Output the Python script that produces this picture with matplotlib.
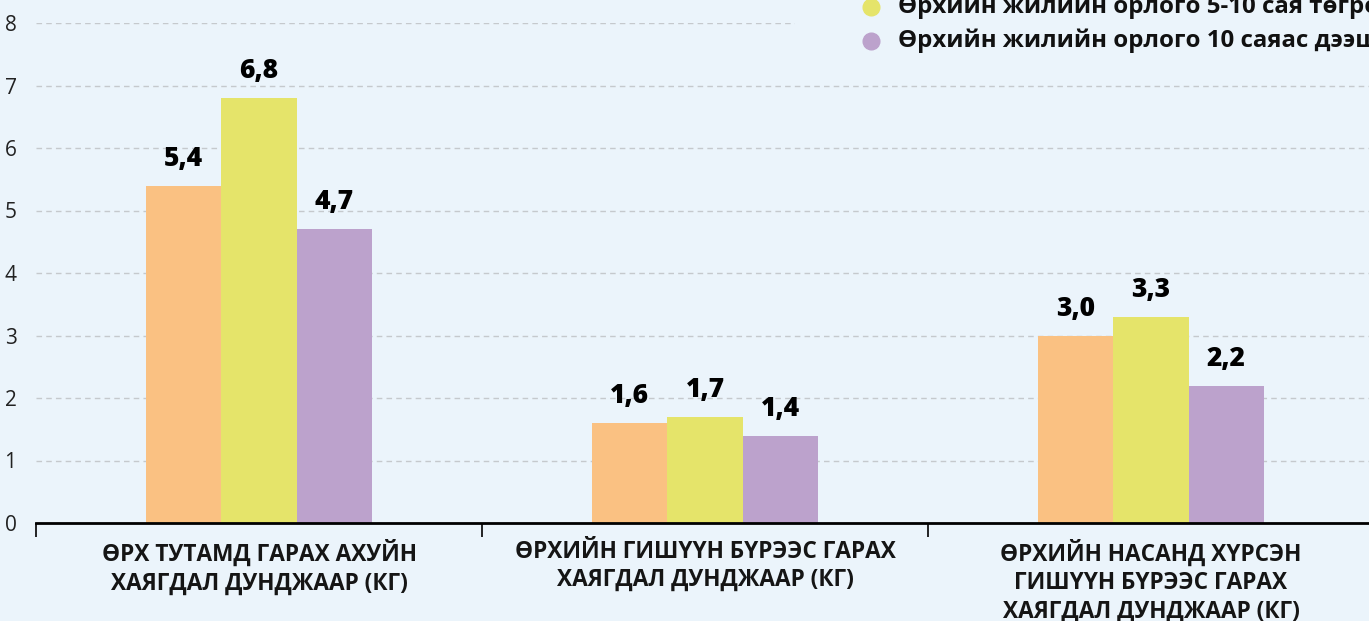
import matplotlib
matplotlib.use("Agg")
import matplotlib.pyplot as plt
from matplotlib.lines import Line2D
from matplotlib.patches import Rectangle
import numpy as np

plt.rcParams['font.family'] = ['Open Sans', 'Noto Sans', 'DejaVu Sans']

categories = [
    "ӨРХ ТУТАМД ГАРАХ АХУЙН\nХАЯГДАЛ ДУНДЖААР (КГ)",
    "ӨРХИЙН ГИШҮҮН БҮРЭЭС ГАРАХ\nХАЯГДАЛ ДУНДЖААР (КГ)",
    "ӨРХИЙН НАСАНД ХҮРСЭН\nГИШҮҮН БҮРЭЭС ГАРАХ\nХАЯГДАЛ ДУНДЖААР (КГ)",
]
series_names = [
    "Өрхийн жилийн орлого 5 саяас доош",
    "Өрхийн жилийн орлого 5-10 сая төгрөг",
    "Өрхийн жилийн орлого 10 саяас дээш",
]
values_low = [5.4, 1.6, 3.0]
values_mid = [6.8, 1.7, 3.3]
values_high = [4.7, 1.4, 2.2]
colors = ["#FAC182", "#E5E46A", "#BCA2CC"]
yticks = [0, 1, 2, 3, 4, 5, 6, 7, 8]

W, H = 1369, 621
bg = "#EBF4FB"
fig = plt.figure(figsize=(W / 100, H / 100), dpi=100, facecolor=bg)
ax = fig.add_axes([36 / W, (H - 523) / H, 1338 / W, 500 / H])
ax.set_facecolor(bg)

x = np.arange(len(categories))
bw = 0.169
for i, (vals, c) in enumerate(zip([values_low, values_mid, values_high], colors)):
    pos = x + (i - 1) * bw
    ax.bar(pos, vals, width=bw, color=c, zorder=3)
    for p, v in zip(pos, vals):
        ax.annotate(f"{v:.1f}".replace('.', ','), (p, v), xytext=(0, 10),
                    textcoords='offset points', ha='center', va='bottom',
                    fontsize=19, fontweight='heavy', color='black', zorder=4)

ax.set_xlim(-0.5, 2.5)
ax.set_ylim(0, 8)
ax.set_yticks(yticks)
ax.set_yticklabels([str(t) for t in yticks], fontsize=15, color='#222222')
ax.yaxis.grid(True, linestyle=(0, (4, 3)), color='#C5C9CD', linewidth=1, zorder=0)
ax.set_xticks(x)
ax.set_xticklabels(categories, fontsize=16.3, fontweight='bold', color='#151515',
                   linespacing=1.25, va='top')
ax.set_xticks([-0.5, 0.5, 1.5, 2.5], minor=True)
ax.tick_params(axis='x', which='major', length=0, pad=12)
ax.tick_params(axis='x', which='minor', length=10, width=1.2, direction='out', color='black')
ax.tick_params(axis='y', length=0, pad=14)
for s in ['top', 'right', 'left']:
    ax.spines[s].set_visible(False)
ax.spines['bottom'].set_linewidth(2)
ax.spines['bottom'].set_color('black')
ax.spines['bottom'].set_zorder(5)

# legend box (partially outside the figure, as in the source image)
fig.patches.append(Rectangle((795 / W, (H - 58) / H), (W - 795) / W, 58 / H,
                             transform=fig.transFigure, facecolor=bg, edgecolor='none', zorder=2))
leg_y = [7, 41]
for name, c, yy in zip(series_names[1:], colors[1:], leg_y):
    fig.lines.append(Line2D([871 / W], [(H - yy) / H], marker='o', markersize=12,
                            color=c, linestyle='none', transform=fig.transFigure, zorder=3))
    fig.text(898 / W, (H - yy) / H, name, fontsize=17.3, fontweight='bold',
             color='#111111', va='center', ha='left', zorder=3)

fig.savefig("out.png", dpi=100, facecolor=bg)
